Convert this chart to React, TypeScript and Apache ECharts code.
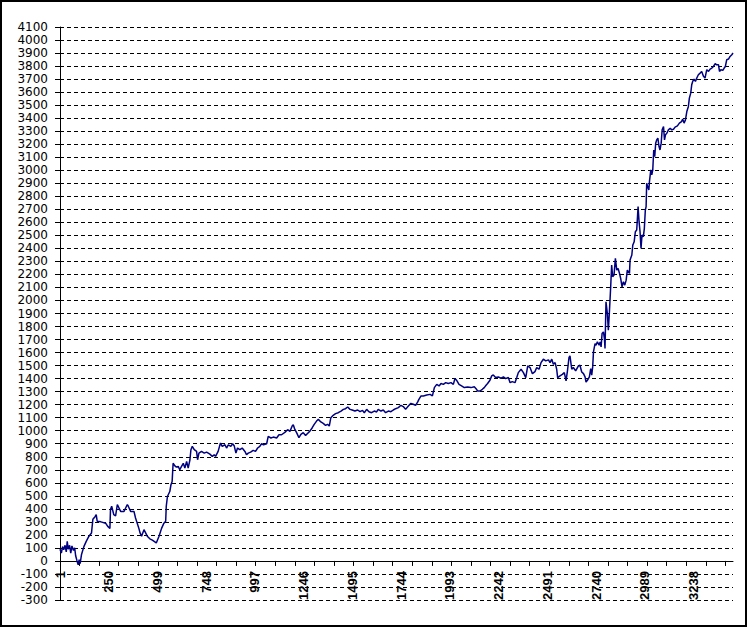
import React, { useEffect, useRef } from "react";
import * as echarts from "echarts";

// Equity curve: [trade number, value]
const earlyPoints: [number, number][] = [
  [1, 90], [8, 60], [14, 110], [20, 85], [27, 120], [33, 70], [38, 150], [43, 90], [50, 120], [56, 60],
  [62, 115], [70, 80], [76, 100], [81, 40], [88, 0], [94, -30], [99, 10], [104, -20], [111, 50], [123, 110],
  [135, 150], [149, 190], [162, 215], [169, 320], [180, 340], [186, 355], [191, 305], [210, 300], [234, 290], [245, 265],
  [256, 250], [259, 395], [265, 420], [276, 355], [285, 345], [294, 433], [302, 408], [311, 380], [328, 380], [345, 433],
  [350, 420], [362, 380], [379, 380], [387, 330], [404, 250], [410, 215], [418, 190], [430, 240], [447, 190], [460, 170],
  [473, 160], [493, 138], [507, 190], [520, 250], [532, 290], [541, 305], [544, 420],
  [550, 495], [562, 533], [568, 585], [574, 610], [579, 750], [588, 730], [596, 720], [605, 726], [613, 700], [622, 726],
  [631, 750], [639, 713], [648, 764], [656, 713], [665, 777], [670, 854], [677, 880], [687, 854], [699, 841], [704, 777],
  [711, 828], [724, 841], [738, 828], [750, 836], [767, 820], [779, 803], [789, 815], [796, 803], [809, 841], [821, 905],
  [830, 880], [844, 892], [852, 867], [861, 892], [874, 880], [883, 900], [891, 885], [900, 828], [908, 867], [920, 854],
  [932, 867], [946, 841], [954, 815], [963, 828], [975, 836], [988, 849], [1000, 841], [1011, 867], [1022, 880], [1031, 900],
  [1041, 892], [1057, 900], [1065, 956], [1079, 944], [1091, 951], [1108, 944], [1120, 969], [1133, 969], [1150, 987], [1164, 1008],
  [1176, 995], [1188, 1038], [1193, 1046],
];

const middlePoints: [number, number][] = [
  [1201, 1010], [1210, 985], [1222, 946], [1232, 972], [1244, 985], [1256, 964], [1266, 979], [1278, 997], [1290, 1023], [1300, 1049],
  [1312, 1074], [1321, 1087], [1334, 1067], [1346, 1056], [1358, 1041], [1368, 1049], [1377, 1036], [1385, 1100], [1397, 1118], [1409, 1131],
  [1423, 1138], [1437, 1151], [1449, 1164], [1460, 1169], [1471, 1182], [1483, 1164], [1494, 1159], [1508, 1151], [1522, 1159], [1534, 1146],
  [1547, 1156], [1556, 1138], [1568, 1164], [1580, 1146], [1593, 1138], [1607, 1151], [1619, 1144], [1627, 1164], [1641, 1151], [1653, 1159],
  [1665, 1138], [1679, 1151], [1692, 1146], [1704, 1159], [1716, 1169], [1730, 1177], [1743, 1195], [1755, 1185], [1767, 1164], [1781, 1190],
  [1794, 1210], [1806, 1203], [1818, 1195], [1829, 1221], [1835, 1241], [1846, 1267],
  [1858, 1267], [1875, 1274], [1892, 1279], [1904, 1267], [1914, 1331], [1926, 1356], [1938, 1344], [1948, 1362], [1960, 1356], [1972, 1369],
  [1985, 1362], [1999, 1369], [2011, 1356], [2019, 1400], [2028, 1387], [2040, 1356], [2053, 1344], [2067, 1331], [2084, 1336], [2101, 1331],
  [2118, 1338], [2127, 1323], [2135, 1305], [2147, 1305], [2159, 1318], [2169, 1331], [2178, 1349], [2186, 1362], [2198, 1387], [2207, 1421],
  [2215, 1428], [2227, 1408], [2241, 1413], [2254, 1403], [2267, 1413], [2278, 1400], [2292, 1408], [2301, 1369], [2312, 1377], [2326, 1369],
  [2335, 1408], [2343, 1446], [2357, 1472], [2369, 1446], [2381, 1408], [2391, 1497], [2403, 1485], [2415, 1438], [2428, 1454], [2437, 1485],
  [2449, 1472], [2459, 1523], [2471, 1549], [2483, 1536], [2497, 1544], [2505, 1523], [2514, 1549], [2522, 1510], [2531, 1523], [2539, 1472],
  [2544, 1408], [2556, 1421], [2568, 1433], [2578, 1446], [2587, 1382], [2594, 1459], [2602, 1562], [2607, 1574], [2616, 1472], [2624, 1485],
  [2636, 1459], [2650, 1497],
];

const latePoints: [number, number][] = [
  [2658, 1503], [2667, 1451], [2676, 1438], [2684, 1413], [2689, 1374], [2696, 1387], [2706, 1413], [2713, 1477], [2718, 1426], [2723, 1490],
  [2727, 1605], [2735, 1669], [2740, 1656], [2747, 1682], [2756, 1656], [2761, 1682], [2766, 1644], [2771, 1746], [2778, 1759], [2783, 1708],
  [2786, 1631], [2791, 1990], [2798, 1900], [2803, 1772], [2808, 1900], [2815, 2105], [2820, 2272], [2825, 2182], [2832, 2195], [2839, 2323],
  [2846, 2233], [2853, 2246], [2860, 2208], [2866, 2169], [2873, 2105], [2880, 2144], [2887, 2118], [2894, 2156], [2900, 2233], [2911, 2208],
  [2914, 2310], [2923, 2349], [2928, 2426], [2935, 2451], [2941, 2528], [2948, 2541], [2955, 2721], [2960, 2605],
  [2965, 2528], [2970, 2400], [2975, 2503], [2982, 2490], [2987, 2554], [2992, 2695], [2996, 2721], [2999, 2900], [3004, 2874], [3010, 2849],
  [3013, 2913], [3020, 3003], [3025, 2964], [3030, 3003], [3035, 3156], [3040, 3105], [3045, 3208], [3050, 3233], [3056, 3246], [3062, 3182],
  [3067, 3156], [3073, 3208], [3078, 3310], [3085, 3336], [3090, 3233], [3095, 3272], [3102, 3285], [3110, 3310], [3119, 3323], [3127, 3310],
  [3136, 3315], [3144, 3331], [3156, 3341], [3166, 3362], [3177, 3374], [3183, 3392], [3190, 3362], [3197, 3387], [3204, 3451], [3212, 3490],
  [3217, 3554], [3224, 3592], [3229, 3656], [3234, 3682], [3241, 3700], [3248, 3682], [3255, 3708], [3263, 3733], [3272, 3746], [3280, 3759],
  [3289, 3721], [3297, 3708], [3306, 3772], [3315, 3759], [3323, 3777], [3332, 3785], [3340, 3797], [3349, 3818], [3357, 3810], [3366, 3810],
  [3371, 3759], [3378, 3772], [3388, 3767], [3395, 3785], [3401, 3797], [3408, 3849], [3417, 3854], [3425, 3874], [3434, 3887], [3440, 3900],
];

const xLabelValues = [1, 250, 499, 748, 997, 1246, 1495, 1744, 1993, 2242, 2491, 2740, 2989, 3238];
const xTickValues = [1, 101, 201, 301, 401, 501, 601, 701, 801, 901, 1001, 1101, 1201, 1301, 1401, 1501, 1601, 1701, 1801, 1901, 2001, 2101, 2201, 2301, 2401, 2501, 2601, 2701, 2801, 2901, 3001, 3101, 3201, 3301, 3401];
const xMin = 1;
const xMax = 3440;
const yMin = -300;
const yMax = 4100;
const yStep = 100;

export default function App() {
  const ref = useRef<HTMLDivElement>(null);
  useEffect(() => {
    document.body.style.margin = "0";
    const chart = echarts.init(ref.current!, null, { renderer: "svg" });
    chart.setOption({
      animation: false,
      backgroundColor: "#ffffff",
      grid: { left: 60, top: 27, right: 15, bottom: 28, containLabel: false, outerBoundsMode: "none" },
      xAxis: {
        type: "value",
        min: xMin,
        max: xMax,
        axisLine: { onZero: true, lineStyle: { color: "#000", width: 1 } },
        axisTick: { show: true, length: 5, lineStyle: { color: "#000" }, customValues: xTickValues },
        axisLabel: {
          customValues: xLabelValues,
          rotate: 90,
          margin: -29,
          color: "#000",
          fontFamily: "'Liberation Sans', Arial, sans-serif",
          fontSize: 13,
          fontWeight: "bold",
          formatter: (v: number) => String(v),
        },
        splitLine: { show: false },
      },
      yAxis: {
        type: "value",
        min: yMin,
        max: yMax,
        interval: yStep,
        axisLine: { show: true, onZero: false, lineStyle: { color: "#000", width: 1 } },
        axisTick: { show: true, length: 5, lineStyle: { color: "#000" } },
        axisLabel: {
          color: "#000",
          fontFamily: "'DejaVu Sans', sans-serif",
          fontSize: 12,
          margin: 12,
          showMinLabel: true,
          showMaxLabel: true,
          hideOverlap: false,
          formatter: (v: number) => String(v),
        },
        splitLine: { show: true, lineStyle: { color: "#000", type: [4, 3], width: 1 } },
      },
      series: [
        {
          type: "line",
          data: [...earlyPoints, ...middlePoints, ...latePoints],
          showSymbol: false,
          symbol: "none",
          lineStyle: { color: "#000080", width: 1.5 },
          z: 3,
        },
      ],
      graphic: [
        {
          type: "rect",
          shape: { x: 1, y: 1, width: 745, height: 625 },
          style: { fill: "none", stroke: "#000", lineWidth: 2 },
          silent: true,
        },
      ],
    });
    return () => chart.dispose();
  }, []);
  return <div ref={ref} style={{ width: 748, height: 628 }} />;
}
